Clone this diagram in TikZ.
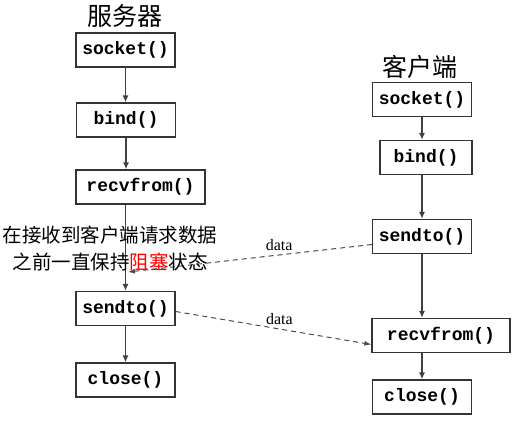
\documentclass[tikz,border=0pt]{standalone}
\usepackage{fontspec}
\setmainfont{Liberation Serif}
\setmonofont{Liberation Mono}
\newfontfamily\cjk{Noto Sans CJK SC}
\usetikzlibrary{arrows.meta}

\tikzset{
  fnbox/.style={draw=black!80, line width=1.3pt, minimum height=34pt,
    minimum width=99pt, inner sep=2pt,
    font=\ttfamily\bfseries\fontsize{18}{20}\selectfont},
  flow/.style={draw=black!75, line width=1.3pt, -{Latex[length=7pt,width=6pt]}},
  msg/.style={draw=black!70, line width=1pt, dash pattern=on 5pt off 4pt,
    -{Latex[length=7pt,width=5pt]}},
  side/.style={font=\cjk\fontsize{25}{27}\selectfont},
  datalbl/.style={font=\fontsize{16}{17}\selectfont, inner sep=1pt},
}

\begin{document}
\begin{tikzpicture}[x=1pt,y=-1pt]
      \useasboundingbox (0,0) rectangle (516,420);

      %%%%  server
      \node[side] (server) at (125,16) {服务器};
      \node[fnbox] (ssock) at (125.5,50) {socket()};
      \node[fnbox] (sbind) at (126,120) {bind()};
      \node[fnbox, minimum width=129pt] (srecv) at (140.5,187) {recvfrom()};
      \node[fnbox] (ssend) at (125.5,308.5) {sendto()};
      \node[fnbox] (sclose) at (125.5,380) {close()};

      \draw[flow] (ssock) -- (ssock.south |- sbind.north);
      \draw[flow] (sbind.south) -- (sbind.south |- srecv.north);
      \draw[flow] (srecv.south -| ssend.north) -- (ssend.north);
      \draw[flow] (ssend) -- (sclose);

      %%%%  client
      \node[side] (client) at (420,67) {客户端};
      \node[fnbox] (csock) at (422,99.5) {socket()};
      \node[fnbox, minimum width=92pt] (cbind) at (426,157.5) {bind()};
      \node[fnbox] (csend) at (422,236.5) {sendto()};
      \node[fnbox, minimum width=138pt] (crecv) at (441,335.5) {recvfrom()};
      \node[fnbox] (cclose) at (422,397) {close()};

      \draw[flow] (csock.south) -- (csock.south |- cbind.north);
      \draw[flow] (cbind.south -| csend.north) -- (csend.north);
      \draw[flow] (csend.south) -- (csend.south |- crecv.north);
      \draw[flow] (crecv.south -| cclose.north) -- (cclose.north);

      %%%%  messages
      \coordinate (wait) at (128,272);
      \draw[msg] ([yshift=-8pt]csend.west) -- (wait)
        node[datalbl, pos=0.38, above=3pt] (data1) {data};
      \draw[msg] ([yshift=-3pt]ssend.east) -- ([yshift=-9pt]crecv.west)
        node[datalbl, pos=0.53, above=3pt] (data2) {data};

      \node[font=\cjk\fontsize{19.5}{27}\selectfont, align=center, inner sep=0pt]
        (block) at (110,248)
        {在接收到客户端请求数据\\之前一直保持{\color{red}阻塞}状态};
    \end{tikzpicture}
\end{document}
